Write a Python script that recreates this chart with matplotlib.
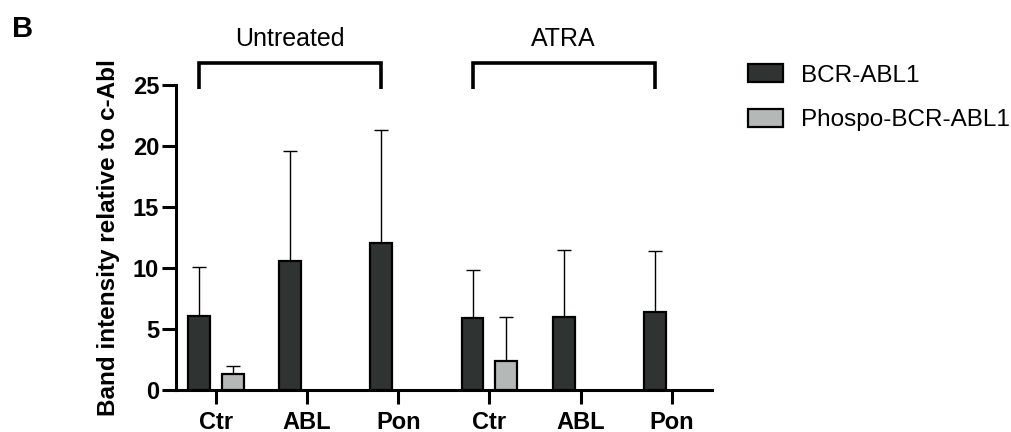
import numpy as np
import matplotlib
matplotlib.use("Agg")
import matplotlib.pyplot as plt
from matplotlib.patches import Patch

plt.rcParams['font.family'] = ['Liberation Sans', 'DejaVu Sans']

categories = ["Ctr", "ABL", "Pon", "Ctr", "ABL", "Pon"]
bcr_mean = [6.1, 10.6, 12.05, 5.9, 6.0, 6.4]
bcr_top = [10.05, 19.6, 21.3, 9.85, 11.45, 11.4]
phospho_idx = [0, 3]
phospho_mean = [1.3, 2.4]
phospho_top = [1.95, 6.0]
groups = ["Untreated", "ATRA"]
group_spans = [(0, 2), (3, 5)]

dark = "#2f3433"
light = "#b4b8b7"
w = 0.24
off = 0.185

fig = plt.figure(figsize=(10.11, 4.32), dpi=100)
ax = fig.add_axes([0.174, 0.097, 0.530, 0.706])

x = np.arange(len(categories))
bcr_err = np.array(bcr_top) - np.array(bcr_mean)
ax.bar(x - off, bcr_mean, w, color=dark, edgecolor="black", linewidth=1.6, zorder=3)
ax.errorbar(x - off, bcr_mean, yerr=[np.zeros(len(x)), bcr_err], fmt="none",
            ecolor="black", elinewidth=1.0, capsize=5, capthick=1.0, zorder=2)

px = np.array(phospho_idx) + off
ph_err = np.array(phospho_top) - np.array(phospho_mean)
ax.bar(px, phospho_mean, w, color=light, edgecolor="black", linewidth=1.6, zorder=3)
ax.errorbar(px, phospho_mean, yerr=[np.zeros(len(px)), ph_err], fmt="none",
            ecolor="black", elinewidth=1.0, capsize=5, capthick=1.0, zorder=2)

ax.set_xlim(-0.44, 5.44)
ax.set_ylim(0, 25)
ax.set_yticks([0, 5, 10, 15, 20, 25])
ax.set_xticks(x)
ax.set_xticklabels(categories, fontsize=17, fontweight="bold")
ax.tick_params(axis="y", labelsize=17, width=2.2, length=10, pad=2)
ax.tick_params(axis="x", width=2.2, length=10, pad=5)
for lab in ax.get_yticklabels():
    lab.set_fontweight("bold")
for s in ["top", "right"]:
    ax.spines[s].set_visible(False)
for s in ["left", "bottom"]:
    ax.spines[s].set_linewidth(2.2)
ax.set_ylabel("Band intensity relative to c-Abl", fontsize=17.5, fontweight="bold", labelpad=9)

# brackets above groups
for name, (a, b) in zip(groups, group_spans):
    xa, xb = a - off, b - off
    ax.plot([xa, xa, xb, xb], [24.7, 26.8, 26.8, 24.7], color="black", lw=2.6,
            clip_on=False, solid_joinstyle="miter", solid_capstyle="butt")
    ax.text((xa + xb) / 2, 28.8, name, ha="center", va="center", fontsize=18)

fig.text(0.012, 0.932, "B", fontsize=21, fontweight="bold", ha="left", va="center")

handles = [Patch(facecolor=dark, edgecolor="black", linewidth=1.6, label="BCR-ABL1"),
           Patch(facecolor=light, edgecolor="black", linewidth=1.6, label="Phospo-BCR-ABL1")]
fig.legend(handles=handles, loc="upper left", bbox_to_anchor=(0.735, 0.862), frameon=False,
           fontsize=17.5, handlelength=1.45, handleheight=0.75, handletextpad=0.75,
           labelspacing=0.9, borderaxespad=0, borderpad=0.2)

fig.savefig("out.png", dpi=100)
